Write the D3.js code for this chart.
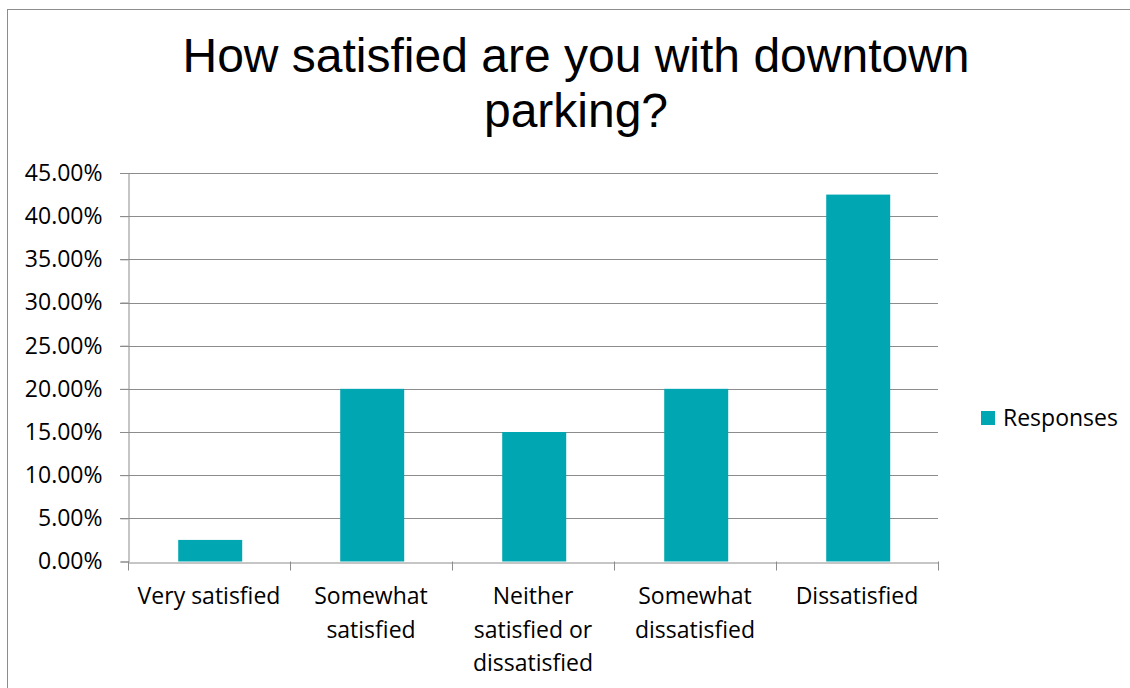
<!DOCTYPE html>
<html><head><meta charset="utf-8">
<script src="https://cdn.jsdelivr.net/npm/d3@7"></script>
<style>body{margin:0;background:#fff}</style>
</head><body>
<svg id="c" width="1130" height="688"></svg>
<script>
const categories = [["Very satisfied"],["Somewhat","satisfied"],["Neither","satisfied or","dissatisfied"],["Somewhat","dissatisfied"],["Dissatisfied"]];
const values = [0.025, 0.20, 0.15, 0.20, 0.425];
const yTicks = [0,0.05,0.10,0.15,0.20,0.25,0.30,0.35,0.40,0.45];
const seriesName = "Responses";
const titleLines = ["How satisfied are you with downtown","parking?"];

const svg = d3.select("#c");
const color = "#00A6B2", grid = "#8c8c8c";
const font = "'Open Sans', sans-serif";
const fs = 23;
svg.append("rect").attr("x",7.5).attr("y",9.5).attr("width",1140).attr("height",700).attr("fill","#fff").attr("stroke","#8c8c8c");

const L=128, R=938, T=173, B=561.5;
const y = d3.scaleLinear().domain([0,0.45]).range([B,T]);

svg.append("g").selectAll("text").data(titleLines).join("text")
  .attr("x",576).attr("y",(d,i)=>72+i*55).attr("text-anchor","middle")
  .attr("font-family","'Liberation Sans', Arial, sans-serif").attr("font-size",48).attr("fill","#000").text(d=>d);

// gridlines
svg.append("g").selectAll("line").data(yTicks.slice(1)).join("line")
  .attr("x1",L-8).attr("x2",R).attr("y1",d=>Math.round(y(d))+0.5).attr("y2",d=>Math.round(y(d))+0.5)
  .attr("stroke",grid).attr("stroke-width",1);

// bars
const xb = d3.scaleBand().domain(d3.range(categories.length)).range([L,R]);
svg.append("g").selectAll("rect").data(values).join("rect")
  .attr("x",(d,i)=>xb(i)+xb.bandwidth()*0.31).attr("width",xb.bandwidth()*0.395)
  .attr("y",d=>y(d)).attr("height",d=>B-y(d)).attr("fill",color);

// y axis
const ya = svg.append("g").attr("transform",`translate(${L+0.5},0)`).call(d3.axisLeft(y).tickValues(yTicks).tickSize(8).tickFormat(d=>(d*100).toFixed(2)+"%"));
ya.select(".domain").attr("stroke",grid);
ya.selectAll(".tick line").attr("stroke",grid);
ya.selectAll("text").attr("font-family",font).attr("font-size",fs).attr("fill","#000").attr("x",-26);

// x axis
const xa = svg.append("g").attr("transform",`translate(0,${Math.round(B)+0.5})`).call(d3.axisBottom(xb).tickSize(0).tickFormat(""));
xa.select(".domain").attr("stroke",grid);
svg.append("g").selectAll("line").data(d3.range(categories.length+1)).join("line")
  .attr("x1",i=>Math.round(L+i*xb.step())+0.5).attr("x2",i=>Math.round(L+i*xb.step())+0.5)
  .attr("y1",B).attr("y2",B+9).attr("stroke",grid);
const lab = svg.append("g").selectAll("text").data(categories).join("text")
  .attr("x",(d,i)=>xb(i)+xb.bandwidth()/2).attr("y",604).attr("text-anchor","middle")
  .attr("font-family",font).attr("font-size",fs).attr("fill","#000");
lab.selectAll("tspan").data(d=>d).join("tspan").attr("x",function(){return this.parentNode.getAttribute("x");})
  .attr("dy",(d,i)=>i?33.5:0).text(d=>d);

// legend
svg.append("rect").attr("x",981).attr("y",411).attr("width",14).attr("height",14).attr("fill",color);
svg.append("text").attr("x",1003).attr("y",426).attr("font-family",font).attr("font-size",fs).attr("fill","#000").text(seriesName);
</script>
</body></html>
